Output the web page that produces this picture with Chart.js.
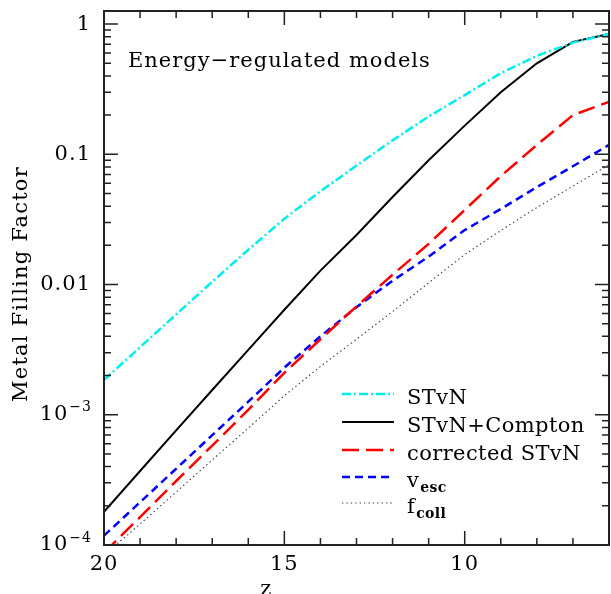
<!DOCTYPE html>
<html>
<head>
<meta charset="utf-8">
<script src="https://cdn.jsdelivr.net/npm/chart.js@4.4.1/dist/chart.umd.min.js"></script>
<style>
  html, body { margin: 0; padding: 0; background: #fff; }
  #wrap { width: 611px; height: 594px; }
</style>
</head>
<body>
<div id="wrap"><canvas id="grafico" width="611" height="594"></canvas></div>
<script>
// redshift grid and metal filling factor for each model
const redshift = [20, 19, 18, 17, 16, 15, 14, 13, 12, 11, 10, 9, 8, 7, 6];
const stvn = [1.85e-3, 3.3e-3, 5.9e-3, 0.0105, 0.0185, 0.032, 0.052, 0.082, 0.128, 0.195, 0.285, 0.42, 0.57, 0.72, 0.84];
const stvnCompton = [1.8e-4, 3.7e-4, 7.6e-4, 1.55e-3, 3.15e-3, 6.4e-3, 0.0128, 0.024, 0.047, 0.09, 0.166, 0.30, 0.50, 0.73, 0.84];
const correctedStvn = [8.7e-5, 1.64e-4, 3.1e-4, 5.8e-4, 1.09e-3, 2.1e-3, 3.8e-3, 6.8e-3, 0.0119, 0.0205, 0.0374, 0.068, 0.118, 0.20, 0.253];
const vEsc = [1.18e-4, 2.13e-4, 3.85e-4, 6.97e-4, 1.26e-3, 2.3e-3, 4.0e-3, 6.7e-3, 0.0107, 0.0164, 0.0262, 0.038, 0.056, 0.081, 0.118];
const fColl = [8.3e-5, 1.45e-4, 2.55e-4, 4.5e-4, 7.9e-4, 1.4e-3, 2.35e-3, 3.8e-3, 6.2e-3, 0.0103, 0.017, 0.026, 0.039, 0.057, 0.083];

// axis labels
const xTickValues = [20, 15, 10];
const yTickValues = [1, 0.1, 0.01, 1e-3, 1e-4];
const yTickText = ['1', '0.1', '0.01', '10', '10'];
const yTickExp = ['', '', '', '\u22123', '\u22124'];

// legend
const legendNames = ['STvN', 'STvN+Compton', 'corrected STvN', 'v', 'f'];
const legendSubs = ['', '', '', 'esc', 'coll'];

const FONTE = '"DejaVu Serif", serif';

const estilos = [
    { color: '#00eeee', width: 2.5, dash: [9, 3, 2, 3] },
    { color: '#000000', width: 2, dash: [] },
    { color: '#ff0000', width: 2.5, dash: [17, 7] },
    { color: '#0000ff', width: 2.5, dash: [8, 5] },
    { color: '#444444', width: 1.2, dash: [1.4, 3] }
];
const series = [stvn, stvnCompton, correctedStvn, vEsc, fColl];

const datasets = series.map((valores, i) => ({
    label: legendNames[i] + legendSubs[i],
    data: redshift.map((z, k) => ({ x: z, y: valores[k] })),
    borderColor: estilos[i].color,
    borderWidth: estilos[i].width,
    borderDash: estilos[i].dash,
    pointRadius: 0,
    tension: 0,
    fill: false
}));

const molduraPlugin = {
    id: 'moldura',
    afterDraw(chart) {
        const ctx = chart.ctx;
        const a = chart.chartArea;
        const sx = chart.scales.x;
        const sy = chart.scales.y;
        ctx.save();
        ctx.setLineDash([]);
        ctx.strokeStyle = '#222';

        // ticks on all four sides, pointing inward
        ctx.lineWidth = 1.5;
        ctx.beginPath();
        for (let z = 6; z <= 20; z++) {
            const px = sx.getPixelForValue(z);
            const len = z % 5 === 0 ? 14 : 7;
            ctx.moveTo(px, a.bottom); ctx.lineTo(px, a.bottom - len);
            ctx.moveTo(px, a.top); ctx.lineTo(px, a.top + len);
        }
        for (let d = -4; d <= 0; d++) {
            for (let m = 1; m <= 9; m++) {
                const v = m * Math.pow(10, d);
                if (v > sy.max) continue;
                const py = sy.getPixelForValue(v);
                const len = m === 1 ? 14 : 7;
                ctx.moveTo(a.left, py); ctx.lineTo(a.left + len, py);
                ctx.moveTo(a.right, py); ctx.lineTo(a.right - len, py);
            }
        }
        ctx.stroke();

        // frame
        ctx.lineWidth = 2;
        ctx.strokeRect(a.left, a.top, a.right - a.left, a.bottom - a.top);

        ctx.fillStyle = '#000';
        // x tick labels
        ctx.font = '21px ' + FONTE;
        ctx.letterSpacing = '1px';
        ctx.textAlign = 'center';
        ctx.textBaseline = 'middle';
        xTickValues.forEach(z => {
            ctx.fillText(String(z), sx.getPixelForValue(z), 565);
        });

        // y tick labels
        yTickValues.forEach((v, i) => {
            const py = sy.getPixelForValue(v);
            ctx.textBaseline = 'middle';
            ctx.textAlign = 'right';
            if (yTickExp[i]) {
                ctx.font = '14px ' + FONTE;
                const wExp = ctx.measureText(yTickExp[i]).width;
                ctx.fillText(yTickExp[i], 92, py - 7);
                ctx.font = '21px ' + FONTE;
                ctx.fillText(yTickText[i], 92 - wExp - 1, py);
            } else {
                ctx.font = '21px ' + FONTE;
                ctx.fillText(yTickText[i], 91, py);
            }
        });

        // axis titles
        ctx.font = '21px ' + FONTE;
        ctx.textAlign = 'center';
        ctx.textBaseline = 'top';
        ctx.fillText('z', sx.getPixelForValue(15.5), 579);
        ctx.save();
        ctx.letterSpacing = '1.2px';
        ctx.translate(22, 284);
        ctx.rotate(-Math.PI / 2);
        ctx.textBaseline = 'middle';
        ctx.fillText('Metal Filling Factor', 0, 0);
        ctx.restore();

        // annotation
        ctx.font = '21px ' + FONTE;
        ctx.letterSpacing = '1px';
        ctx.textAlign = 'left';
        ctx.textBaseline = 'middle';
        ctx.fillText('Energy\u2212regulated models', 128, 62);

        // legend
        ctx.letterSpacing = '0.4px';
        const linhasY = [394, 422, 450, 477, 503];
        legendNames.forEach((nome, i) => {
            const y = linhasY[i];
            const e = estilos[i];
            ctx.strokeStyle = e.color;
            ctx.lineWidth = e.width;
            ctx.setLineDash(e.dash);
            ctx.beginPath();
            ctx.moveTo(342, y);
            ctx.lineTo(394, y);
            ctx.stroke();
            ctx.setLineDash([]);
            ctx.fillStyle = '#000';
            ctx.textAlign = 'left';
            ctx.textBaseline = 'alphabetic';
            ctx.font = '21px ' + FONTE;
            ctx.fillText(nome, 407, y + 10);
            if (legendSubs[i]) {
                const w = ctx.measureText(nome).width;
                ctx.font = 'bold 14px ' + FONTE;
                ctx.fillText(legendSubs[i], 407 + w + 1, y + 15);
            }
        });
        ctx.restore();
    }
};

new Chart(document.getElementById('grafico'), {
    type: 'line',
    data: { datasets: datasets },
    options: {
        responsive: false,
        animation: false,
        layout: { padding: { left: 104, top: 11, right: 2, bottom: 49 } },
        plugins: { legend: { display: false }, tooltip: { enabled: false } },
        scales: {
            x: { type: 'linear', reverse: true, min: 6, max: 20, display: false },
            y: { type: 'logarithmic', min: 1e-4, max: 1.26, display: false }
        }
    },
    plugins: [molduraPlugin]
});
</script>
</body>
</html>
